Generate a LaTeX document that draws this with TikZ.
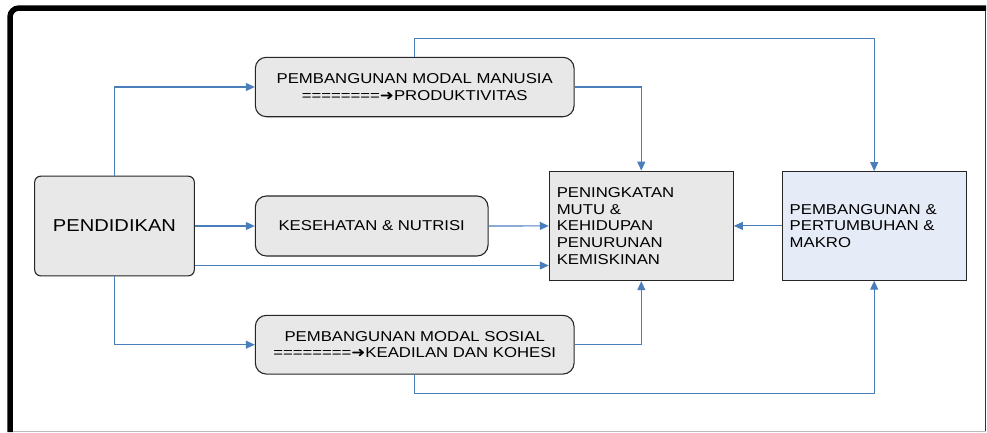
\documentclass[tikz,border=0pt]{standalone}
\usepackage{fontspec}
\setmainfont{Liberation Sans}[FakeStretch=1.17]
\newfontfamily\symfont{DejaVu Sans}[FakeStretch=1.17]
\usetikzlibrary{arrows.meta}
\definecolor{flow}{HTML}{4A7EBB}
\definecolor{boxgray}{HTML}{E8E8E8}
\definecolor{boxblue}{HTML}{E6ECF7}
\definecolor{framegray}{HTML}{BBBBBB}
% heavy arrow glyph used inside the box labels
\newcommand{\heavyarrow}{{\symfont\bfseries ➜}}

\begin{document}
\begin{tikzpicture}[x=1bp,y=-1bp,
  box/.style={draw=black!85, line width=1.1bp, fill=boxgray, inner sep=0pt,
    font=\fontsize{14.3bp}{16.6bp}\selectfont},
  roundbox/.style={box, rounded corners=11bp, align=center},
  squarebox/.style={box, align=left, inner xsep=7.5bp, text width=169bp,
    minimum height=109.5bp},
  flowarrow/.style={draw=flow, line width=1.1bp, -{Triangle[length=9bp,width=8bp]}},
  ]
\useasboundingbox (0,0) rectangle (987,432);

% outer frame: heavy top and left edge, light right and bottom edge
\draw[framegray, line width=1bp] (10,431) -- (985.5,431);
\draw[black!80, line width=1bp] (985.5,9) -- (985.5,431);
\draw[black, line width=5.5bp, rounded corners=9bp] (10,432) -- (10,8) -- (986,8);

% boxes
\node[box, rounded corners=6bp, minimum width=159.6bp, minimum height=99.7bp,
      font=\fontsize{17.2bp}{20bp}\selectfont] (pend) at (114.5,226) {PENDIDIKAN};
\node[roundbox, minimum width=318.7bp, minimum height=59.4bp] (modal) at (414.7,87)
  {PEMBANGUNAN MODAL MANUSIA\\========\heavyarrow PRODUKTIVITAS};
\node[roundbox, minimum width=232.7bp, minimum height=60bp] (kes) at (371.7,226)
  {KESEHATAN \& NUTRISI};
\node[roundbox, minimum width=318.7bp, minimum height=58.7bp] (sosial) at (414.7,344.7)
  {PEMBANGUNAN MODAL SOSIAL\\========\heavyarrow KEADILAN DAN KOHESI};
\node[squarebox] (mutu) at (641.3,225.9)
  {PENINGKATAN\\MUTU \&\\KEHIDUPAN\\PENURUNAN\\KEMISKINAN};
\node[squarebox, fill=boxblue, minimum height=108.5bp] (makro) at (874.2,225.9)
  {PEMBANGUNAN \&\\PERTUMBUHAN \&\\MAKRO};

% connectors
\draw[flowarrow] (pend.north) |- (modal.west);
\draw[flowarrow] (pend.south) |- (sosial.west);
\draw[flowarrow] (pend.east) -- (kes.west);
\coordinate (pendlow) at ([yshift=-39.5bp]pend.east);
\draw[flowarrow] (pendlow) -- (pendlow -| mutu.west);
\draw[flowarrow] (kes.east) -- (mutu.west);
\draw[flowarrow] (modal.east) -| (mutu.north);
\draw[flowarrow] (sosial.east) -| (mutu.south);
\draw[flowarrow] (modal.north) -- ++(0,-18.6) -| (makro.north);
\draw[flowarrow] (sosial.south) -- ++(0,19.3) -| (makro.south);
\draw[flowarrow] (makro.west) -- (mutu.east);
\end{tikzpicture}
\end{document}
